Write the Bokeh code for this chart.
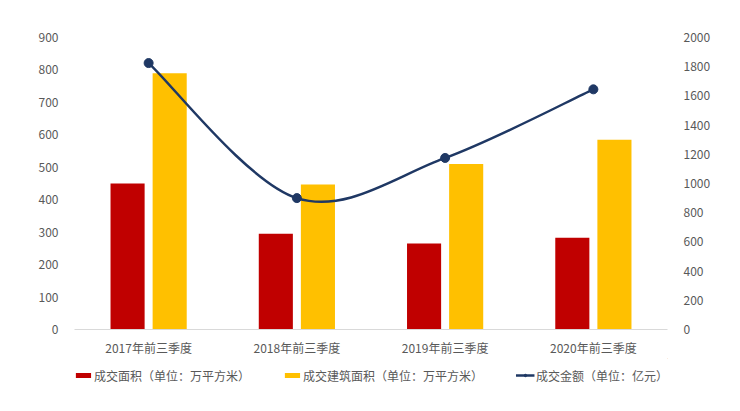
from bokeh.plotting import figure
from bokeh.models import (ColumnDataSource, Range1d, LinearAxis, FixedTicker,
                          Legend, LegendItem)
from bokeh.layouts import column
from bokeh.transform import dodge
from bokeh.embed import file_html
from bokeh.resources import INLINE

categories = ["2017年前三季度", "2018年前三季度", "2019年前三季度", "2020年前三季度"]
area_sold = [450, 295, 265, 283]          # 成交面积（万平方米）
floor_area_sold = [790, 447, 510, 585]    # 成交建筑面积（万平方米）
amount = [1825, 900, 1175, 1645]          # 成交金额（亿元）
series_labels = ["成交面积（单位：万平方米）", "成交建筑面积（单位：万平方米）",
                 "成交金额（单位：亿元）"]

FONT = "Noto Sans CJK SC"
GRAY = "#595959"
RED = "#C00000"
YELLOW = "#FFC000"
NAVY = "#1F3864"

xs = [i + 0.5 for i in range(len(categories))]
src = ColumnDataSource(dict(x=xs, a=area_sold, b=floor_area_sold, m=amount))

p = figure(width=740, height=358, output_backend="svg", toolbar_location=None,
           x_range=Range1d(0, len(categories)), y_range=Range1d(0, 900),
           min_border_left=74, min_border_right=73, min_border_top=37,
           min_border_bottom=28, outline_line_color=None,
           background_fill_color="white", border_fill_color="white")
p.extra_y_ranges = {"right": Range1d(0, 2000)}

p.xgrid.visible = False
p.ygrid.visible = False

p.vbar(x=dodge("x", -0.142, range=p.x_range), top="a", width=0.23,
       source=src, color=RED, line_color=None)
p.vbar(x=dodge("x", 0.142, range=p.x_range), top="b", width=0.23,
       source=src, color=YELLOW, line_color=None)

# smooth curve (Bezier segments with control points derived from the data)
n = len(xs)
x0, y0, x1, y1, cx0, cy0, cx1, cy1 = [], [], [], [], [], [], [], []
for i in range(n - 1):
    pm = i - 1 if i > 0 else i
    pp = i + 2 if i + 2 < n else i + 1
    x0.append(xs[i]); y0.append(amount[i])
    x1.append(xs[i + 1]); y1.append(amount[i + 1])
    cx0.append(xs[i] + (xs[i + 1] - xs[pm]) / 6)
    cy0.append(amount[i] + (amount[i + 1] - amount[pm]) / 6)
    cx1.append(xs[i + 1] - (xs[pp] - xs[i]) / 6)
    cy1.append(amount[i + 1] - (amount[pp] - amount[i]) / 6)
p.bezier(x0=x0, y0=y0, x1=x1, y1=y1, cx0=cx0, cy0=cy0, cx1=cx1, cy1=cy1,
         line_color=NAVY, line_width=2.5, y_range_name="right")
p.scatter(x="x", y="m", source=src, size=9, color=NAVY, y_range_name="right")

# x axis
xa = p.xaxis[0]
xa.ticker = FixedTicker(ticks=xs)
xa.major_label_overrides = {x: c for x, c in zip(xs, categories)}
xa.axis_line_color = "#D9D9D9"
xa.major_tick_line_color = None
xa.minor_tick_line_color = None
xa.major_tick_out = 0
xa.major_tick_in = 0
xa.major_label_standoff = 9
xa.major_label_text_font = FONT
xa.major_label_text_font_size = "12px"
xa.major_label_text_color = GRAY

# left axis
ya = p.yaxis[0]
ya.ticker = FixedTicker(ticks=list(range(0, 901, 100)))
ya.axis_line_color = None
ya.major_tick_line_color = None
ya.minor_tick_line_color = None
ya.major_tick_out = 0
ya.major_label_standoff = 16
ya.major_label_text_font = FONT
ya.major_label_text_font_size = "12px"
ya.major_label_text_color = GRAY

# right axis
ra = LinearAxis(y_range_name="right",
                ticker=FixedTicker(ticks=list(range(0, 2001, 200))),
                axis_line_color=None, major_tick_line_color=None,
                minor_tick_line_color=None, major_tick_out=0,
                major_label_standoff=16, major_label_text_font=FONT,
                major_label_text_font_size="12px", major_label_text_color=GRAY)
p.add_layout(ra, "right")

# legend strip below the chart (key glyphs only; marks lie outside its ranges)
lg = figure(width=740, height=53, output_backend="svg", toolbar_location=None,
            x_range=Range1d(0, 1), y_range=Range1d(0, 1),
            x_axis_location=None, y_axis_location=None,
            min_border_left=0, min_border_right=0, min_border_top=0,
            min_border_bottom=0, outline_line_color=None,
            background_fill_color="white", border_fill_color="white")
lg.xgrid.visible = False
lg.ygrid.visible = False
off = ColumnDataSource(dict(x=[5], y=[5]))
l_a = lg.vbar(x="x", top="y", bottom="y", width=0.1, source=off, color=RED, line_color=None)
l_b = lg.vbar(x="x", top="y", bottom="y", width=0.1, source=off, color=YELLOW, line_color=None)
l_l = lg.line(x="x", y="y", source=off, line_color=NAVY, line_width=2.5)
l_p = lg.scatter(x="x", y="y", source=off, size=7, color=NAVY)

legend = Legend(items=[
    LegendItem(label=series_labels[0], renderers=[l_a]),
    LegendItem(label=series_labels[1], renderers=[l_b]),
    LegendItem(label=series_labels[2], renderers=[l_l, l_p]),
], orientation="horizontal", location="top_center", border_line_color=None,
   background_fill_alpha=0, label_text_font=FONT, label_text_font_size="12px",
   label_text_color=GRAY, glyph_width=19, glyph_height=6, label_standoff=2,
   spacing=32, padding=6, margin=7, label_height=20)
lg.add_layout(legend, "center")

layout = column(p, lg, spacing=0)
open("out.html", "w").write(file_html(layout, INLINE))
